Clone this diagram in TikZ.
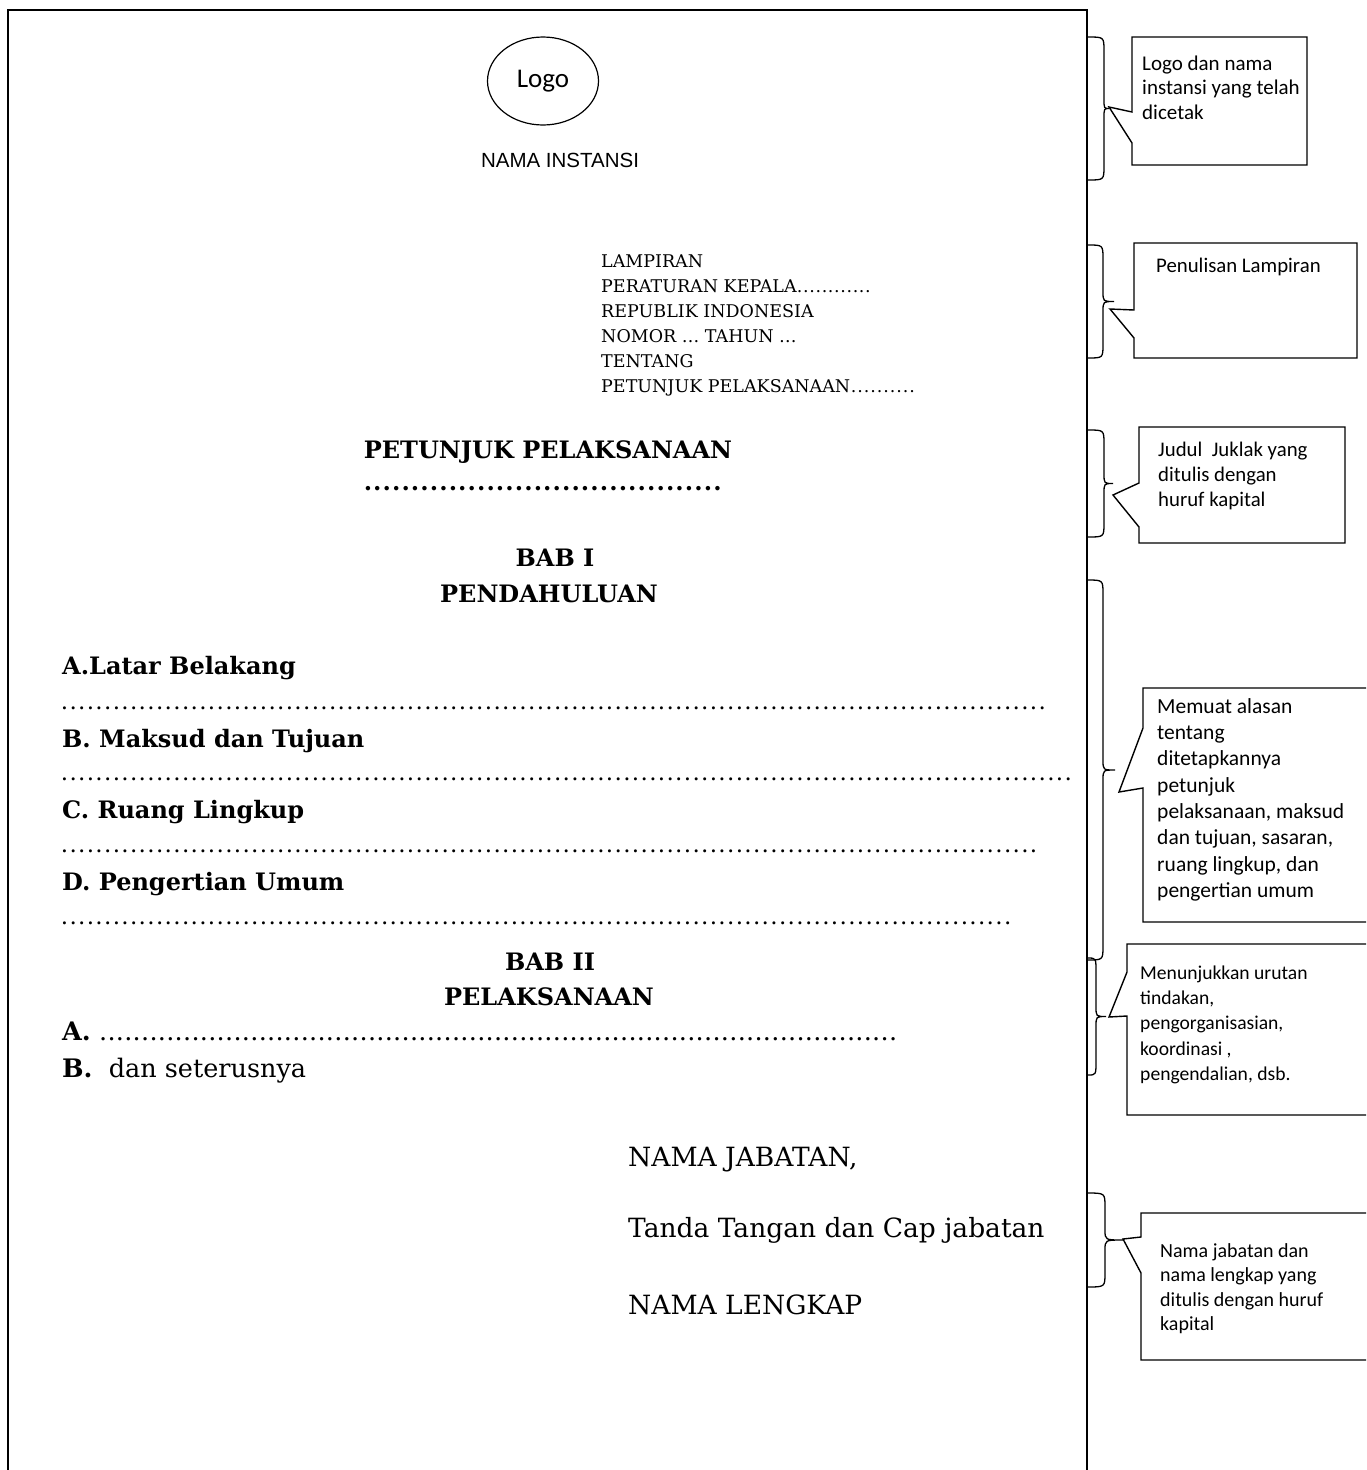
\documentclass[tikz,border=0pt]{standalone}
\usepackage{fontspec}
\setmainfont{DejaVu Serif}
\newfontfamily\calfont{Carlito}
\newfontfamily\arialfont{Liberation Sans}
\usetikzlibrary{shapes.geometric}
\newcommand{\titik}[2]{\hbox to #1{\leaders\hbox to #2{\hss.\hss}\hfill}}
\newcommand{\kurung}[5]{\draw[braceline] (#1,#4) .. controls (#2,#4) .. (#2,#4+14) -- (#2,{(#4+#5)/2-10}) .. controls (#2,{(#4+#5)/2}) .. (#3,{(#4+#5)/2}) .. controls (#2,{(#4+#5)/2}) .. (#2,{(#4+#5)/2+10}) -- (#2,#5-14) .. controls (#2,#5) .. (#1,#5)}
\newcommand{\kotak}[7]{\draw[boxline] (#1,#2) -- (#3,#2) -- (#3,#4) -- (#1,#4) -- (#1,#7) -- (#6) -- (#1,#5) -- cycle}

\begin{document}
\begin{tikzpicture}[x=1pt,y=-1pt,
	frameline/.style={line width=2pt},
	boxline/.style={line width=1.4pt,line join=miter},
	braceline/.style={line width=1.3pt},
	note/.style={align=left,anchor=north west,inner sep=0pt},
	heading/.style={font=\fontsize{24}{28}\selectfont\bfseries,anchor=base,inner sep=0pt},
	sub/.style={font=\fontsize{24}{28}\selectfont\bfseries,anchor=base west,inner sep=0pt},
	body/.style={font=\fontsize{26.5}{30}\selectfont,anchor=base west,inner sep=0pt}]
			\useasboundingbox (0,0) rectangle (1366,1470);
			\fill[white] (0,0) rectangle (1366,1470);
			\clip (0,0) rectangle (1366,1470);
			\draw[frameline] (8,1480) -- (8,10) -- (1087,10) -- (1087,1480);
			
			\node[draw,ellipse,line width=1.2pt,minimum width=111pt,minimum height=88pt,font=\calfont\fontsize{27}{30}\selectfont] (logo) at (543,81) {\raisebox{4pt}{Logo}};
			\node[font=\arialfont\fontsize{20.5}{22}\selectfont] (instansi) at (560,160) {NAMA INSTANSI};
			
			\node[note,font=\fontsize{17.5}{25}\selectfont] (lampiran) at (601,249.5) {\strut LAMPIRAN\\PERATURAN KEPALA\titik{76pt}{6.2pt}\\REPUBLIK INDONESIA\\NOMOR … TAHUN …\\TENTANG\\PETUNJUK PELAKSANAAN\titik{66pt}{6.5pt}};
			
			\node[heading] (judul) at (548,458) {PETUNJUK PELAKSANAAN};
			\node[sub] (juduldots) at (363,490) {\titik{360pt}{9.45pt}};
			\node[heading] (bab1) at (555,566) {BAB I};
			\node[heading] (pendahuluan) at (549,602) {PENDAHULUAN};
			
			\node[sub] (subA) at (62,674) {A.Latar Belakang};
			\node[body,font=\fontsize{23}{28}\selectfont] (dotsA) at (60,709) {\titik{990pt}{8.65pt}};
			\node[sub] (subB) at (62,747) {B. Maksud dan Tujuan};
			\node[body,font=\fontsize{23}{28}\selectfont] (dotsB) at (60,780) {\titik{1016pt}{8.65pt}};
			\node[sub] (subC) at (62,818) {C. Ruang Lingkup};
			\node[body,font=\fontsize{23}{28}\selectfont] (dotsC) at (60,852) {\titik{980pt}{8.65pt}};
			\node[sub] (subD) at (62,890) {D. Pengertian Umum};
			\node[body,font=\fontsize{23}{28}\selectfont] (dotsD) at (60,924) {\titik{954pt}{8.65pt}};
			
			\node[heading] (bab2) at (550,970) {BAB II};
			\node[heading] (pelaksanaan) at (549,1005) {PELAKSANAAN};
			\node[body,font=\fontsize{25.5}{28}\selectfont] (itemA) at (62,1040) {\textbf{A.} \titik{803pt}{8.4pt}};
			\node[body,font=\fontsize{25.5}{28}\selectfont] (itemB) at (62,1077) {\textbf{B.}\ \ dan seterusnya};
			
			\node[body] (jabatan) at (628,1166) {NAMA JABATAN,};
			\node[body] (ttd) at (628,1237) {Tanda Tangan dan Cap jabatan};
			\node[body] (lengkap) at (628,1314) {NAMA LENGKAP};
			
			\kurung{1088}{1104}{1109}{37}{180};
			\kurung{1088}{1103}{1114}{245}{358};
			\kurung{1088}{1104}{1113}{430}{537};
			\kurung{1087}{1103}{1115}{580}{960};
			\kurung{1088}{1096}{1106}{958}{1075};
			\kurung{1087}{1105}{1123}{1193}{1287};
			
			\coordinate (t1) at (1109,107);
			\coordinate (t2) at (1110,309);
			\coordinate (t3) at (1113,495);
			\coordinate (t4) at (1119,792);
			\coordinate (t5) at (1109,1017);
			\coordinate (t6) at (1123,1239);
			\kotak{1132}{37}{1307}{165}{112}{t1}{143};
			\kotak{1134}{243}{1357}{358}{310}{t2}{338};
			\kotak{1139}{427}{1345}{543}{483}{t3}{527};
			\kotak{1143}{688}{1370}{922}{728}{t4}{788};
			\kotak{1127}{944}{1370}{1115}{972}{t5}{1016};
			\kotak{1141}{1213}{1370}{1360}{1237}{t6}{1273};
			
			\node[note,font=\calfont\fontsize{21}{24.5}\selectfont] (n1) at (1142,52.9) {\strut Logo dan nama\\instansi yang telah\\dicetak};
			\node[note,font=\calfont\fontsize{20.8}{24.5}\selectfont] (n2) at (1156,254.9) {\strut Penulisan Lampiran};
			\node[note,font=\calfont\fontsize{20.8}{25}\selectfont] (n3) at (1158,438.5) {\strut Judul\ \ Juklak yang\\ditulis dengan\\huruf kapital};
			\node[note,font=\calfont\fontsize{21.5}{26.3}\selectfont] (n4) at (1157,694.6) {\strut Memuat alasan\\tentang\\ditetapkannya\\petunjuk\\pelaksanaan, maksud\\dan tujuan, sasaran,\\ruang lingkup, dan\\pengertian umum};
			\node[note,font=\calfont\fontsize{19.6}{25.3}\selectfont] (n5) at (1140,961.3) {\strut Menunjukkan urutan\\tindakan,\\pengorganisasian,\\koordinasi ,\\pengendalian, dsb.};
			\node[note,font=\calfont\fontsize{20}{24.5}\selectfont] (n6) at (1160,1239.9) {\strut Nama jabatan dan\\nama lengkap yang\\ditulis dengan huruf\\kapital};
			
			\end{tikzpicture}
\end{document}
